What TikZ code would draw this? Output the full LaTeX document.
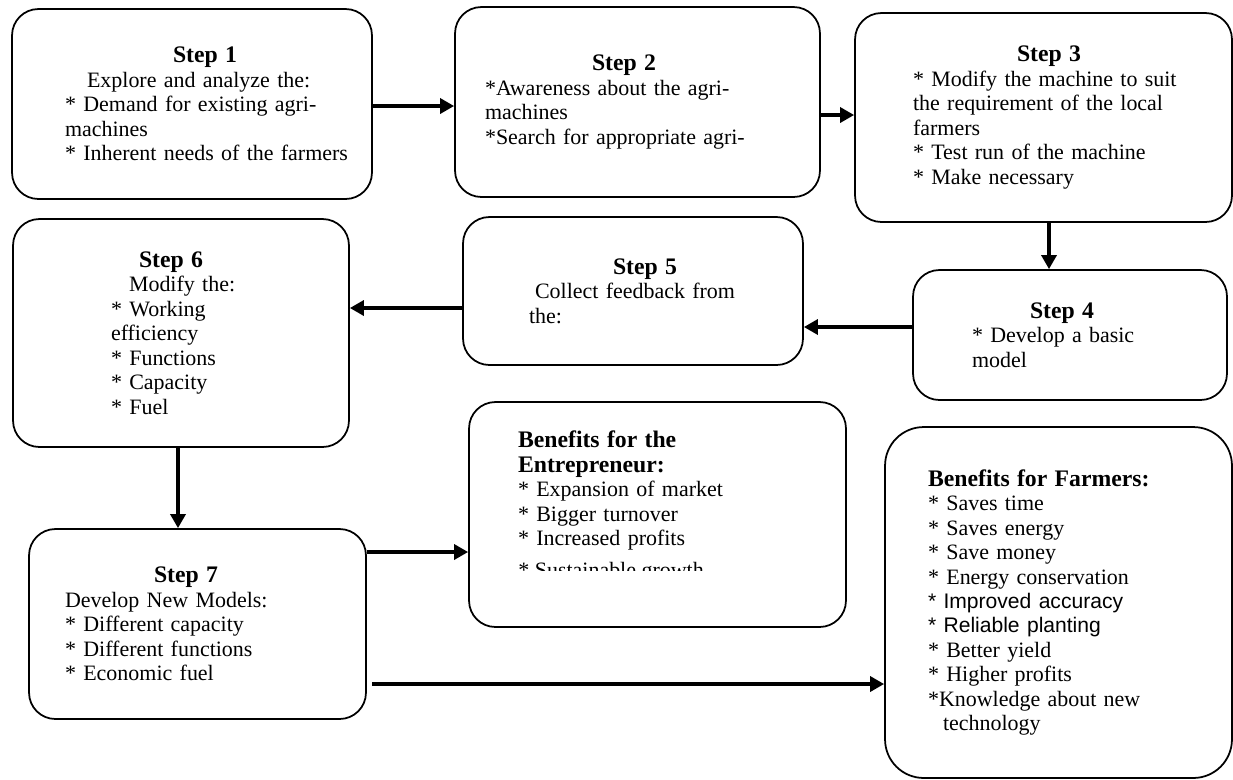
\documentclass[tikz,border=0pt]{standalone}
\usepackage{fontspec}
\setmainfont{Liberation Serif}
\newfontfamily\arialfont{Liberation Sans}
\usetikzlibrary{arrows.meta}

\newcommand\lft[1]{\leftskip=#1\relax}
\newcommand\ttl[2]{\hspace*{#1}{\fontsize{13.5}{14}\selectfont\bfseries #2}}

\begin{document}
\begin{tikzpicture}[x=0.02cm,y=-0.02cm,
  box/.style={draw,line width=1pt,rounded corners=15pt,inner sep=0pt,align=left,
    font=\fontsize{12.5}{13.9}\selectfont},
  arr/.style={line width=2.2pt,-{Triangle[length=8pt,width=8.5pt]}}]
\useasboundingbox (0,0) rectangle (1233,779);

% first row
\node[box,minimum width=7.2cm,minimum height=3.8cm,text width=7.2cm] (s1) at (192,104)
  {\lft{1.06cm}\ttl{2.16cm}{Step 1}\\
   \hspace*{0.44cm}Explore and analyze the:\\
   {*} Demand for existing agri-\\
   machines\\
   {*} Inherent needs of the farmers\par};
\node[box,minimum width=7.3cm,minimum height=3.8cm,text width=7.3cm] (s2) at (637.5,102)
  {\lft{0.6cm}\ttl{2.14cm}{Step 2}\\
   {*}Awareness about the agri-\\
   machines\\
   {*}Search for appropriate agri-\par};
\node[box,minimum width=7.54cm,minimum height=4.18cm,text width=7.54cm] (s3) at (1043.5,117.5)
  {\lft{1.16cm}\ttl{2.08cm}{Step 3}\\
   {*} Modify the machine to suit\\
   the requirement of the local\\
   farmers\\
   {*} Test run of the machine\\
   {*} Make necessary\par};

% second row
\node[box,minimum width=6.28cm,minimum height=2.6cm,text width=6.28cm] (s4) at (1070,335)
  {\lft{1.18cm}\ttl{1.16cm}{Step 4}\\
   {*} Develop a basic\\
   model\par};
\node[box,minimum width=6.8cm,minimum height=2.96cm,text width=6.8cm] (s5) at (633,291)
  {\lft{1.32cm}\ttl{1.68cm}{Step 5}\\
   \hspace*{0.12cm}Collect feedback from\\
   the:\par};
\node[box,minimum width=6.72cm,minimum height=4.56cm,text width=6.72cm] (s6) at (181,333)
  {\lft{1.96cm}\ttl{0.56cm}{Step 6}\\
   \hspace*{0.36cm}Modify the:\\
   {*} Working\\
   efficiency\\
   {*} Functions\\
   {*} Capacity\\
   {*} Fuel\par};

% last row
\node[box,minimum width=6.74cm,minimum height=3.8cm,text width=6.74cm] (s7) at (197.5,624)
  {\lft{0.72cm}\ttl{1.78cm}{Step 7}\\
   Develop New Models:\\
   {*} Different capacity\\
   {*} Different functions\\
   {*} Economic fuel\par};
\node[box,minimum width=7.54cm,minimum height=4.5cm,text width=7.54cm] (ent) at (657.5,514.5)
  {\lft{0.98cm}\ttl{0pt}{Benefits for the}\\
   \ttl{0pt}{Entrepreneur:}\\
   {*} Expansion of market\\
   {*} Bigger turnover\\
   {*} Increased profits\par\kern27pt};
\begin{scope}
\clip (469,555) rectangle (846,570);
\node[anchor=base west,inner sep=0pt,font=\fontsize{12.5}{13.9}\selectfont] (entcut) at (518,577)
  {{*} Sustainable growth};
\end{scope}
\node[box,rounded corners=22pt,minimum width=6.94cm,minimum height=7.02cm,text width=6.94cm] (farm) at (1058.5,602.5)
  {\lft{0.86cm}\ttl{0pt}{Benefits for Farmers:}\\
   {*} Saves time\\
   {*} Saves energy\\
   {*} Save money\\
   {*} Energy conservation\\
   {\arialfont\fontsize{12}{13.9}\selectfont * Improved accuracy}\\
   {\arialfont\fontsize{12}{13.9}\selectfont * Reliable planting}\\
   {*} Better yield\\
   {*} Higher profits\\
   {*}Knowledge about new\\
   \hspace*{0.3cm}technology\par};

\draw[arr] (s1.east |- 0,106) -- (s2.west |- 0,106);
\draw[arr] (s2.east |- 0,115) -- (s3.west |- 0,115);
\draw[arr] (1049,0 |- s3.south) -- (1049,0 |- s4.north);
\draw[arr] (s4.west |- 0,327) -- (s5.east |- 0,327);
\draw[arr] (s5.west |- 0,308) -- (s6.east |- 0,308);
\draw[arr] (178,0 |- s6.south) -- (178,0 |- s7.north);
\draw[arr] (s7.east |- 0,552) -- (ent.west |- 0,552);
\draw[arr,shorten <=3pt] (s7.east |- 0,684) -- (farm.west |- 0,684);
\end{tikzpicture}
\end{document}
